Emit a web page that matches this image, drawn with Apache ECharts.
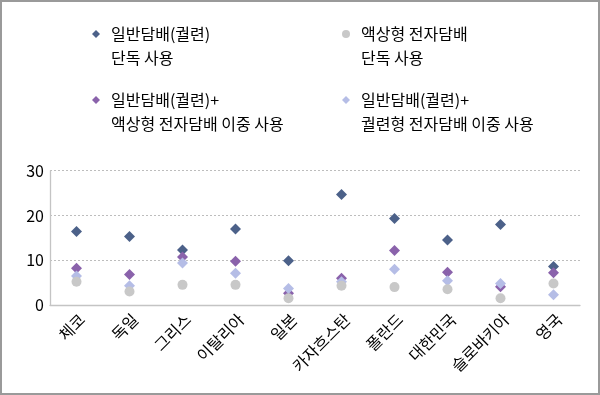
<!DOCTYPE html>
<html>
<head>
<meta charset="utf-8">
<script src="https://cdn.jsdelivr.net/npm/echarts@6/dist/echarts.min.js"></script>
<style>
html,body{margin:0;padding:0;background:#fff;}
#c{width:600px;height:395px;}
</style>
</head>
<body>
<div id="c"></div>
<script>
var categories = ['체코','독일','그리스','이탈리아','일본','카자흐스탄','폴란드','대한민국','슬로바키아','영국'];
var cigOnly = [16.4, 15.3, 12.3, 17.0, 9.9, 24.7, 19.3, 14.5, 18.0, 8.6];
var liquidOnly = [5.2, 3.0, 4.5, 4.5, 1.5, 4.3, 4.0, 3.5, 1.5, 4.8];
var cigPlusLiquid = [8.2, 6.8, 10.7, 9.8, 2.6, 6.0, 12.2, 7.3, 4.1, 7.2];
var cigPlusHeated = [6.5, 4.3, 9.4, 7.1, 3.7, 5.2, 8.0, 5.4, 4.8, 2.3];
var yTicks = [0, 10, 20, 30];
var seriesNames = ['일반담배(궐련)\n단독 사용', '액상형 전자담배\n단독 사용', '일반담배(궐련)+\n액상형 전자담배 이중 사용', '일반담배(궐련)+\n궐련형 전자담배 이중 사용'];

var FONT = "'Noto Sans CJK KR', 'Noto Sans', sans-serif";
var colors = ['#4c6189', '#c8c8c8', '#8a62ab', '#b5bde6'];
var symbols = ['diamond', 'circle', 'diamond', 'diamond'];

function legend(i, left, top) {
  return {
    data: [{name: seriesNames[i], icon: symbols[i]}],
    left: left, top: top, padding: 0,
    itemWidth: 8, itemHeight: 8,
    selectedMode: false,
    formatter: function (name) { return ' \n' + name; },
    textStyle: {fontFamily: FONT, fontSize: 16, color: '#000', lineHeight: 24, padding: [0, 0, 0, 6]}
  };
}

var chart = echarts.init(document.getElementById('c'), null, {renderer: 'canvas'});
var dataSets = [cigOnly, liquidOnly, cigPlusLiquid, cigPlusHeated];
var zs = [1, 4, 2, 3];
chart.setOption({
  animation: false,
  color: colors,
  legend: [legend(0, 92, -2), legend(1, 342, -2), legend(2, 92, 64), legend(3, 342, 64)],
  grid: {left: 50, width: 530, top: 170.7, bottom: 90, containLabel: false},
  xAxis: {
    type: 'category', data: categories, boundaryGap: true,
    axisLine: {lineStyle: {color: '#c4c4c4', width: 1.3}},
    axisTick: {alignWithLabel: true, length: 5, lineStyle: {color: '#c4c4c4'}},
    axisLabel: {rotate: 45, interval: 0, margin: 6, verticalAlign: 'top', fontFamily: FONT, fontSize: 16, color: '#000'}
  },
  yAxis: {
    type: 'value', min: yTicks[0], max: yTicks[yTicks.length - 1], interval: 10,
    axisLine: {show: true, lineStyle: {color: '#c4c4c4', width: 1.3}},
    axisTick: {show: false},
    axisLabel: {margin: 6, fontFamily: FONT, fontSize: 16, color: '#000'},
    splitLine: {show: true, lineStyle: {color: '#bdbdbd', type: [2, 2], width: 1}}
  },
  graphic: [{type: 'rect', shape: {x: 1, y: 1, width: 598, height: 393}, style: {fill: 'none', stroke: '#9a9a9a', lineWidth: 2}, silent: true}],
  series: dataSets.map(function (d, i) {
    return {
      name: seriesNames[i], type: 'scatter', data: d,
      symbol: symbols[i], symbolSize: symbols[i] === 'circle' ? 10 : 11,
      itemStyle: {color: colors[i], opacity: 1},
      z: zs[i]
    };
  })
});
</script>
</body>
</html>
